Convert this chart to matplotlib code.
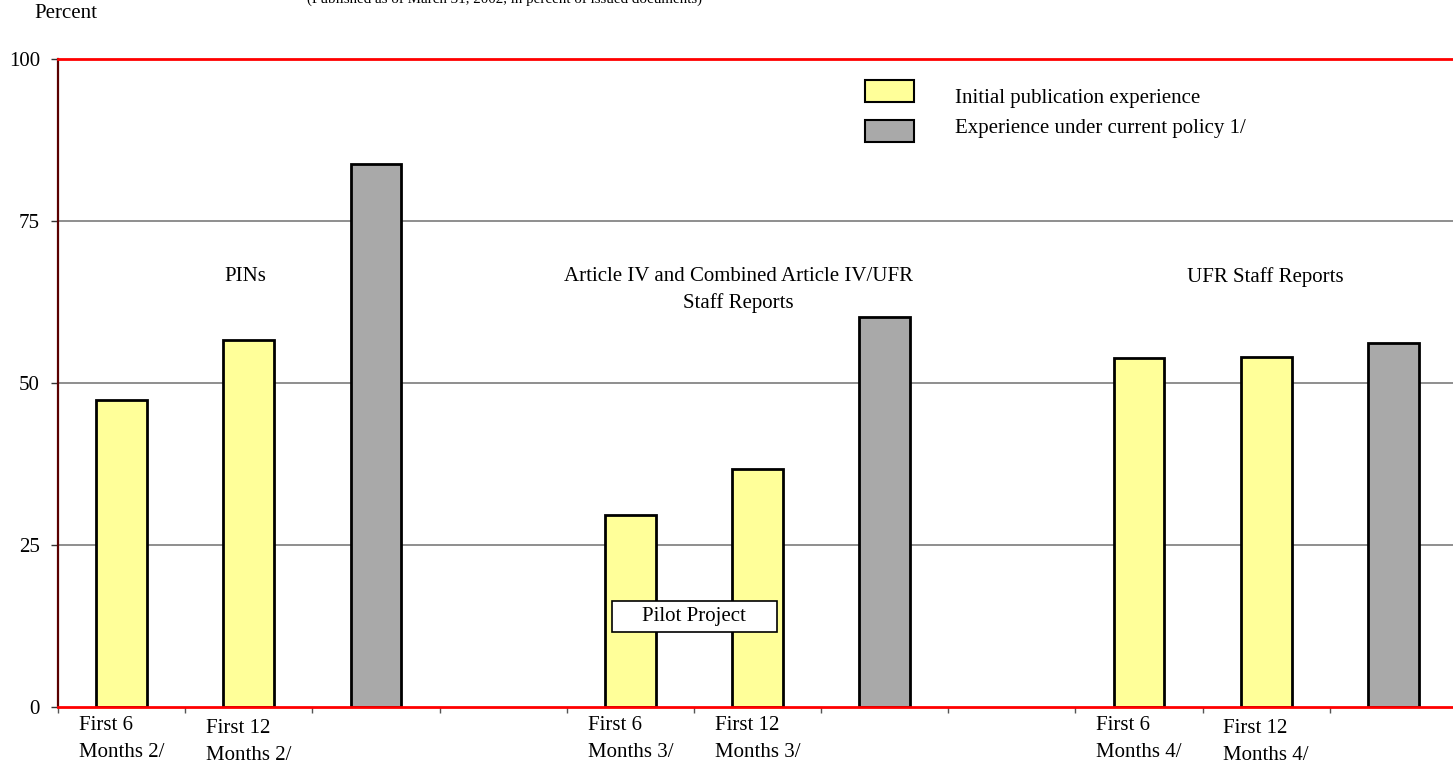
import matplotlib
matplotlib.use("Agg")
import matplotlib.pyplot as plt
from matplotlib.patches import Rectangle
import numpy as np

plt.rcParams["font.family"] = ["Liberation Serif", "DejaVu Serif"]
plt.rcParams["font.size"] = 15

# ---- data -------------------------------------------------------------
slot_labels = ["First 6\nMonths 2/", "First 12\nMonths 2/", "", "",
               "First 6\nMonths 3/", "First 12\nMonths 3/", "", "",
               "First 6\nMonths 4/", "First 12\nMonths 4/", ""]
initial_slots = [0, 1, 4, 5, 8, 9]
initial_values = [47.4, 56.6, 29.7, 36.7, 53.9, 54.0]
current_slots = [2, 6, 10]
current_values = [83.8, 60.2, 56.2]
group_names = ["PINs", "Article IV and Combined Article IV/UFR\nStaff Reports",
               "UFR Staff Reports"]
yticks = [0, 25, 50, 75, 100]
series_names = ["Initial publication experience",
                "Experience under current policy 1/"]

YELLOW = "#FFFF99"
GREY = "#A9A9A9"
RED = "#FF0000"

W, H = 1453, 764
fig = plt.figure(figsize=(W / 100, H / 100), dpi=100)
ax = fig.add_axes([58 / W, 57 / H, 1399 / W, 648 / H])

ax.bar(initial_slots, initial_values, width=0.40, color=YELLOW,
       edgecolor="black", linewidth=2.0, zorder=3)
ax.bar(current_slots, current_values, width=0.40, color=GREY,
       edgecolor="black", linewidth=2.0, zorder=3)

ax.set_xlim(-0.5, len(slot_labels) - 0.5)
ax.set_ylim(0, 100)

# y axis
ax.set_yticks(yticks)
ax.set_yticklabels([str(v) for v in yticks])
ax.tick_params(axis="y", direction="out", length=5, width=1, pad=8,
               color="#333333")
for v in yticks[1:-1]:
    ax.axhline(v, color="#707070", linewidth=1.1, zorder=1)

# x axis: ticks at slot boundaries, labels under each slot
ax.set_xticks(np.arange(-0.5, len(slot_labels) - 0.5, 1.0))
ax.set_xticklabels([])
ax.tick_params(axis="x", direction="out", length=4.5, width=1,
               color="#555555")
label_dy = [0, -3, 0, 0, 0, 0, 0, 0, 0, -3, 0]
xlab_tr = ax.get_xaxis_transform()
for i, lab in enumerate(slot_labels):
    if not lab:
        continue
    y_ax = (-9 + label_dy[i]) / 648
    ax.text(i, y_ax, lab, transform=xlab_tr, ha="center", va="top",
            multialignment="left", linespacing=1.55)

# spines
for side in ["top", "bottom"]:
    ax.spines[side].set_color(RED)
    ax.spines[side].set_linewidth(2.0)
ax.spines["left"].set_color("#5a0000")
ax.spines["left"].set_linewidth(1.6)
ax.spines["right"].set_visible(False)
for s in ax.spines.values():
    s.set_zorder(4)

# group headings
ax.text(0.97, 66.4, group_names[0], ha="center", va="center")
ax.text(4.85, 64.4, group_names[1], ha="center", va="center",
        linespacing=1.5)
ax.text(8.99, 66.4, group_names[2], ha="center", va="center")

# pilot project box spanning the two middle bars
ax.add_patch(Rectangle((3.855, 11.57), 1.297, 4.79, facecolor="white",
                       edgecolor="black", linewidth=1.2, zorder=5))
ax.text(4.5, 13.97, "Pilot Project", ha="center", va="center", zorder=6)

# legend
for (y0, col) in [((707 - 102) / 648, YELLOW), ((707 - 142) / 648, GREY)]:
    ax.add_patch(Rectangle((0.5768, y0), 0.0351, 22 / 648, facecolor=col,
                           edgecolor="black", linewidth=1.5,
                           transform=ax.transAxes, zorder=5))
ax.text(0.6412, (707 - 103) / 648, series_names[0], transform=ax.transAxes,
        ha="left", va="baseline")
ax.text(0.6412, (707 - 133) / 648, series_names[1], transform=ax.transAxes,
        ha="left", va="baseline")

# headers
fig.text(66 / W, 1 - 13 / H, "Percent", ha="center", va="center")
fig.text(505 / W, 1 - 2.5 / H,
         "(Published as of March 31, 2002, in percent of issued documents)",
         ha="center", va="baseline", fontsize=10.8)

fig.savefig("out.png", dpi=100)
